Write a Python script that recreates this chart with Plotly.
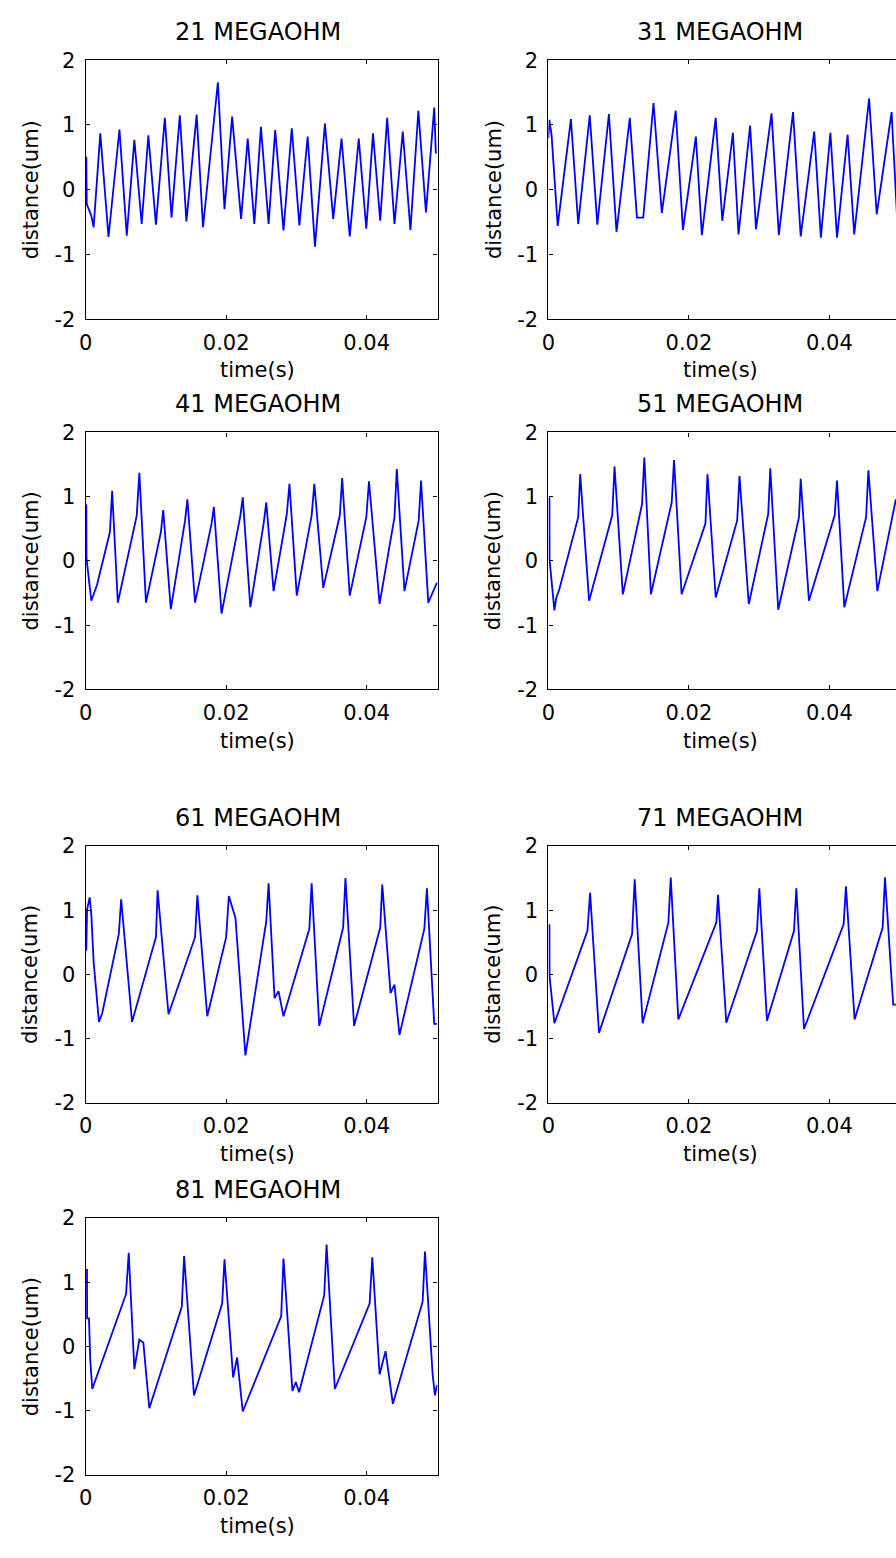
import plotly.graph_objects as go

# ---- recorded traces: time in ms, distance in um ----
t21 = [0.09, 0.15, 0.80, 1.13, 2.08, 3.25, 4.81, 5.85, 6.93, 7.97, 8.92, 10.00,
       11.27, 12.22, 13.40, 14.34, 15.80, 16.70, 18.82, 19.76, 20.85, 22.12, 23.07, 24.01,
       24.95, 26.04, 26.98, 28.16, 29.34, 30.42, 31.60, 32.64, 34.06, 35.24, 36.42, 37.59,
       38.87, 39.95, 40.90, 41.93, 42.92, 43.96, 45.14, 46.23, 47.36, 48.44, 49.62, 49.85]
d21 = [0.51, -0.22, -0.40, -0.58, 0.87, -0.73, 0.93, -0.71, 0.77, -0.53, 0.84, -0.54,
       1.11, -0.43, 1.15, -0.49, 1.16, -0.58, 1.66, -0.30, 1.13, -0.45, 0.79, -0.53,
       0.97, -0.53, 0.92, -0.63, 0.95, -0.55, 0.82, -0.88, 1.02, -0.45, 0.79, -0.72,
       0.79, -0.60, 0.87, -0.48, 1.11, -0.53, 0.90, -0.62, 1.22, -0.35, 1.27, 0.56]

t31 = [0.00, 0.14, 0.45, 1.32, 3.20, 4.24, 5.88, 6.96, 8.61, 9.69, 11.58, 12.60,
       13.50, 14.96, 16.14, 18.12, 19.15, 20.99, 21.84, 23.81, 24.75, 26.26, 27.06, 28.71,
       29.55, 31.76, 32.80, 34.82, 35.91, 37.84, 38.78, 40.14, 41.08, 42.59, 43.53, 45.65,
       46.73, 48.85, 49.60]
d31 = [0.80, 1.08, 0.84, -0.56, 1.09, -0.53, 1.15, -0.54, 1.17, -0.65, 1.11, -0.43,
       -0.43, 1.34, -0.36, 1.22, -0.62, 0.82, -0.70, 1.11, -0.48, 0.88, -0.69, 0.99,
       -0.61, 1.18, -0.70, 1.20, -0.72, 0.90, -0.74, 0.88, -0.74, 0.85, -0.69, 1.41,
       -0.38, 1.20, -0.36]

t41 = [0.09, 0.12, 0.80, 1.60, 3.45, 3.77, 4.58, 7.26, 7.64, 8.58, 10.71, 11.04,
       12.12, 14.15, 14.48, 15.57, 17.92, 18.25, 19.34, 22.03, 22.36, 23.44, 25.33, 25.71,
       26.75, 28.63, 29.01, 30.05, 32.17, 32.55, 33.82, 36.18, 36.51, 37.59, 39.95, 40.33,
       41.84, 43.96, 44.29, 45.38, 47.41, 47.74, 48.77, 50.00]
d41 = [0.88, 0.04, -0.62, -0.38, 0.45, 1.09, -0.65, 0.70, 1.37, -0.65, 0.45, 0.79,
       -0.75, 0.63, 0.96, -0.65, 0.58, 0.84, -0.82, 0.71, 0.99, -0.72, 0.58, 0.91,
       -0.47, 0.73, 1.20, -0.54, 0.71, 1.20, -0.42, 0.71, 1.29, -0.54, 0.68, 1.24,
       -0.67, 0.68, 1.43, -0.47, 0.63, 1.25, -0.65, -0.34]

t51 = [0.14, 0.16, 0.85, 1.10, 1.55, 4.24, 4.52, 5.79, 9.08, 9.41, 10.59, 13.32,
       13.65, 14.59, 17.55, 17.88, 18.96, 22.35, 22.64, 23.81, 26.87, 27.20, 28.52, 31.29,
       31.58, 32.71, 35.67, 35.91, 37.08, 40.75, 41.08, 42.12, 45.22, 45.55, 46.82, 49.46]
d51 = [0.99, 0.02, -0.77, -0.58, -0.44, 0.68, 1.35, -0.62, 0.71, 1.47, -0.52, 0.88,
       1.61, -0.52, 0.91, 1.57, -0.52, 0.58, 1.35, -0.57, 0.63, 1.32, -0.67, 0.73,
       1.44, -0.76, 0.68, 1.28, -0.62, 0.71, 1.25, -0.72, 0.68, 1.41, -0.47, 0.96]

t61 = [0.09, 0.20, 0.57, 0.80, 1.13, 1.89, 2.36, 4.72, 5.05, 6.60, 10.00, 10.24,
       11.79, 15.57, 15.90, 17.31, 20.00, 20.38, 21.32, 22.74, 25.71, 26.04, 26.89, 27.45,
       28.16, 31.84, 32.17, 33.25, 36.65, 36.98, 38.21, 41.93, 42.22, 43.40, 43.96, 44.67,
       48.21, 48.58, 49.62, 50.00]
d61 = [0.37, 1.01, 1.20, 0.94, 0.20, -0.74, -0.60, 0.63, 1.17, -0.74, 0.58, 1.31,
       -0.62, 0.58, 1.23, -0.65, 0.58, 1.22, 0.88, -1.26, 0.83, 1.42, -0.37, -0.26,
       -0.65, 0.71, 1.42, -0.80, 0.73, 1.50, -0.80, 0.73, 1.40, -0.29, -0.16, -0.94,
       0.71, 1.34, -0.77, -0.77]

t71 = [0.14, 0.16, 0.85, 5.55, 5.93, 7.20, 11.91, 12.28, 13.41, 17.08, 17.41, 18.49,
       23.91, 24.14, 25.32, 29.69, 30.02, 31.11, 34.96, 35.29, 36.38, 42.02, 42.35, 43.58,
       47.58, 47.91, 49.08, 49.46]
d71 = [0.78, -0.03, -0.76, 0.68, 1.27, -0.91, 0.63, 1.48, -0.76, 0.81, 1.51, -0.70,
       0.81, 1.24, -0.75, 0.68, 1.34, -0.72, 0.68, 1.34, -0.85, 0.78, 1.37, -0.70,
       0.73, 1.51, -0.47, -0.47]

t81 = [0.19, 0.20, 0.47, 0.66, 0.94, 5.75, 6.13, 6.93, 7.64, 8.21, 9.06, 13.68,
       14.01, 15.42, 19.43, 19.76, 20.99, 21.56, 22.36, 27.83, 28.16, 29.43, 29.91, 30.38,
       33.96, 34.29, 35.47, 40.42, 40.80, 41.84, 42.69, 43.73, 47.97, 48.30, 49.39, 49.72,
       50.00]
d81 = [1.21, 0.44, 0.44, -0.22, -0.66, 0.82, 1.46, -0.35, 0.11, 0.06, -0.96, 0.62,
       1.41, -0.76, 0.67, 1.36, -0.48, -0.17, -1.01, 0.47, 1.37, -0.69, -0.55, -0.71,
       0.80, 1.59, -0.66, 0.67, 1.39, -0.43, -0.07, -0.89, 0.70, 1.48, -0.43, -0.76,
       -0.60]

titles = ["21 MEGAOHM", "31 MEGAOHM", "41 MEGAOHM", "51 MEGAOHM",
          "61 MEGAOHM", "71 MEGAOHM", "81 MEGAOHM"]
x_tick_vals = [0, 0.02, 0.04]
x_tick_text = ["0", "0.02", "0.04"]
y_tick_vals = [-2, -1, 0, 1, 2]
y_tick_text = ["-2", "-1", "0", "1", "2"]
x_label = "time(s)"
y_label = "distance(um)"

traces = [(t21, d21), (t31, d31), (t41, d41), (t51, d51), (t61, d61), (t71, d71), (t81, d81)]
grid_pos = [(0, 0), (0, 1), (1, 0), (1, 1), (2, 0), (2, 1), (3, 0)]

# ---- page geometry (pixels) ----
FIG_W, FIG_H = 896, 1558
BOX_W = 354.7
COL_LEFT = [79.3, 545.7]
ROW_Y = [(49.0, 312.0), (427.0, 688.0), (847.0, 1108.0), (1225.0, 1486.0)]
PX_PER_S = 7080.0
FONT = "DejaVu Sans"

fig = go.Figure()
axes = {}
notes = []


def px_x(v):
    return v / FIG_W


def px_y(v):
    return 1 - v / FIG_H


for i, ((t_ms, dist), (row, col), title) in enumerate(zip(traces, grid_pos, titles), start=1):
    x0 = COL_LEFT[col]
    x1 = min(x0 + BOX_W, FIG_W)
    y0, y1 = ROW_Y[row]
    xa = "x" if i == 1 else f"x{i}"
    ya = "y" if i == 1 else f"y{i}"

    fig.add_trace(go.Scatter(
        x=[t / 1000.0 for t in t_ms], y=dist, mode="lines",
        line=dict(color="#0000ff", width=1.8),
        xaxis=xa, yaxis=ya, showlegend=False, hoverinfo="skip"))

    common = dict(
        ticks="inside", ticklen=4, tickwidth=1, tickcolor="black",
        showline=True, linecolor="black", linewidth=1.3,
        showgrid=False, zeroline=False, fixedrange=True,
        tickfont=dict(family=FONT, size=21, color="black"),
    )
    axes["xaxis" if i == 1 else f"xaxis{i}"] = dict(
        domain=[px_x(x0), px_x(x1)], range=[0, (x1 - x0) / PX_PER_S],
        anchor=ya, tickmode="array", tickvals=x_tick_vals, ticktext=x_tick_text,
        mirror="ticks", ticklabelstandoff=4, **common)
    axes["yaxis" if i == 1 else f"yaxis{i}"] = dict(
        domain=[px_y(y1), px_y(y0)], range=[-2, 2],
        anchor=xa, tickmode="array", tickvals=y_tick_vals, ticktext=y_tick_text,
        mirror="ticks" if col == 0 else False, ticklabelstandoff=5, **common)

    cx = x0 + BOX_W / 2 - 4
    notes.append(dict(text=title, x=px_x(cx), y=px_y(y0 - 28.5), xref="paper", yref="paper",
                      xanchor="center", yanchor="middle", showarrow=False,
                      font=dict(family=FONT, size=24, color="black")))
    notes.append(dict(text=x_label, x=px_x(cx), y=px_y(y1 + 52), xref="paper", yref="paper",
                      xanchor="center", yanchor="middle", showarrow=False,
                      font=dict(family=FONT, size=21, color="black")))
    notes.append(dict(text=y_label, x=px_x(x0 - 55.5), y=px_y((y0 + y1) / 2),
                      xref="paper", yref="paper", textangle=-90,
                      xanchor="center", yanchor="middle", showarrow=False,
                      font=dict(family=FONT, size=21, color="black")))

fig.update_layout(
    width=FIG_W, height=FIG_H,
    margin=dict(l=0, r=0, t=0, b=0),
    paper_bgcolor="white", plot_bgcolor="white",
    annotations=notes,
    **axes,
)

fig.write_html("out.html", config={"displayModeBar": False})
